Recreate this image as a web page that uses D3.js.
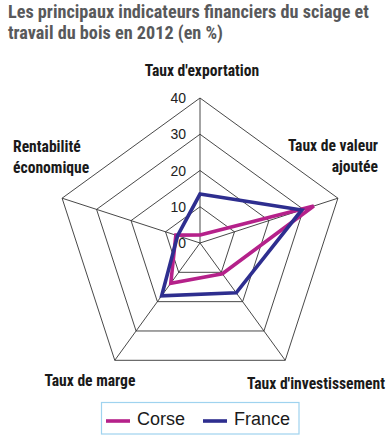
<!DOCTYPE html>
<html><head><meta charset="utf-8">
<script src="https://cdn.jsdelivr.net/npm/d3@7"></script>
<style>
html,body{margin:0;padding:0;background:#fff;}
svg{display:block;}
</style></head>
<body>
<script>
const titleLines = ["Les principaux indicateurs financiers du sciage et", "travail du bois en 2012 (en %)"];
const axes = ["Taux d'exportation", "Taux de valeur ajoutée", "Taux d'investissement", "Taux de marge", "Rentabilité économique"];
const seriesNames = ["Corse", "France"];
const corse = [2.2, 33, 10.5, 13.7, 7];
const france = [13.5, 29.5, 17, 18, 6.5];
const ticks = [0, 10, 20, 30, 40];
const colors = ["#b5218a", "#2e2e8f"];

const W = 390, H = 441, cx = 200, cy = 243, R = 145;
const narrow = "'Liberation Sans Narrow', 'Arial Narrow', 'Roboto Condensed', sans-serif";
const svg = d3.select("body").append("svg").attr("width", W).attr("height", H);

// title
svg.append("g").selectAll("text").data(titleLines).join("text")
  .attr("x", 8).attr("y", (d, i) => 18 + i * 21)
  .attr("font-family", narrow).attr("font-weight", "bold").attr("font-size", 18.2)
  .attr("fill", "#58595b").text(d => d);

const r = d3.scaleLinear().domain([0, 40]).range([0, R]);
const ang = d3.scalePoint().domain(axes).range([0, 2 * Math.PI * 4 / 5]);
const pt = (a, v) => [cx + r(v) * Math.sin(ang(a)), cy - r(v) * Math.cos(ang(a))];

const grid = svg.append("g").attr("stroke", "#333").attr("stroke-width", 0.9).attr("fill", "none");
ticks.filter(t => t > 0).forEach(t => {
  grid.append("path").attr("d", d3.line()(axes.map(a => pt(a, t))) + "Z");
});
axes.forEach(a => {
  grid.append("line").attr("x1", cx).attr("y1", cy)
    .attr("x2", pt(a, 40)[0]).attr("y2", pt(a, 40)[1]);
});

// tick labels
svg.append("g").selectAll("text").data(ticks).join("text")
  .attr("x", cx - 14).attr("y", d => pt(axes[0], d)[1])
  .attr("dy", "0.36em").attr("text-anchor", "end")
  .attr("font-family", "'Liberation Sans', Arial, sans-serif").attr("font-size", 14)
  .attr("fill", "#222").text(d => d);

// series
const line = d3.line().curve(d3.curveLinearClosed);
[corse, france].forEach((vals, i) => {
  svg.append("path")
    .attr("d", line(axes.map((a, j) => pt(a, vals[j]))))
    .attr("fill", "none").attr("stroke", colors[i]).attr("stroke-width", 3.6)
    .attr("stroke-linejoin", "miter");
});

// axis labels
const labelPos = [
  {x: 202, y: 76, anchor: "middle", lines: [axes[0]]},
  {x: 378, y: 151, anchor: "end", lines: ["Taux de valeur", "ajoutée"]},
  {x: 385, y: 389, anchor: "end", lines: [axes[2]]},
  {x: 90, y: 386, anchor: "middle", lines: [axes[3]]},
  {x: 13, y: 152, anchor: "start", lines: ["Rentabilité", "économique"]}
];
const lg = svg.append("g").attr("font-family", narrow).attr("font-weight", "bold")
  .attr("font-size", 15.6).attr("fill", "#1a1a1a");
labelPos.forEach(p => {
  const t = lg.append("text").attr("x", p.x).attr("y", p.y).attr("text-anchor", p.anchor);
  p.lines.forEach((l, k) => t.append("tspan").attr("x", p.x).attr("dy", k ? 21 : 0).text(l));
});

// legend
const leg = svg.append("g");
leg.append("rect").attr("x", 101.5).attr("y", 402.5).attr("width", 197.5).attr("height", 31.5)
  .attr("fill", "none").attr("stroke", "#9fd3ef").attr("stroke-width", 1.2);
const legX = [106, 203];
seriesNames.forEach((n, i) => {
  leg.append("line").attr("x1", legX[i]).attr("x2", legX[i] + 24).attr("y1", 421).attr("y2", 421)
    .attr("stroke", colors[i]).attr("stroke-width", 3.6);
  leg.append("text").attr("x", legX[i] + 31).attr("y", 424.5)
    .attr("font-family", "'Liberation Sans', Arial, sans-serif").attr("font-size", 18)
    .attr("fill", "#1a1a1a").text(n);
});
</script>
</body></html>
